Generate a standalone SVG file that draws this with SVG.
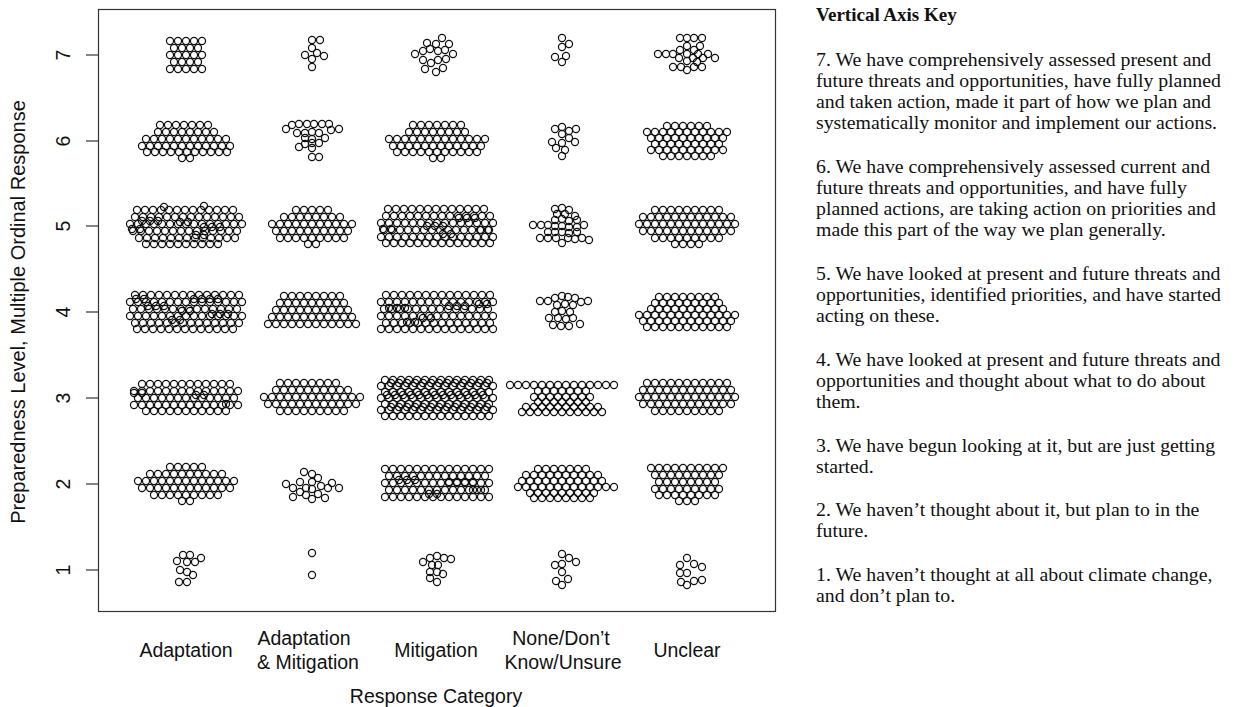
<svg xmlns="http://www.w3.org/2000/svg" xmlns:xlink="http://www.w3.org/1999/xlink" width="1235" height="707" viewBox="0 0 1235 707">
<style>
.ax{font-family:"Liberation Sans",Arial,sans-serif;font-size:19.5px;fill:#111}
.yt{font-size:20px}
.key{font-family:"Liberation Serif","Times New Roman",serif;font-size:19.8px;fill:#111}
.kb{font-weight:bold;font-size:19px}
.pts{fill:none;stroke:#111;stroke-width:1.25}
.frame{fill:none;stroke:#333;stroke-width:1.2}
.tick{stroke:#333;stroke-width:1.2}
</style>
<defs>
<circle id="c" r="3.55"/>
<g id="r1"><use href="#c"/></g>
<g id="r2"><use href="#c" x="-4"/><use href="#c" x="4"/></g>
<g id="r3"><use href="#r1"/><use href="#c" x="-8"/><use href="#c" x="8"/></g>
<g id="r4"><use href="#r2"/><use href="#c" x="-12"/><use href="#c" x="12"/></g>
<g id="r5"><use href="#r3"/><use href="#c" x="-16"/><use href="#c" x="16"/></g>
<g id="r6"><use href="#r4"/><use href="#c" x="-20"/><use href="#c" x="20"/></g>
<g id="r7"><use href="#r5"/><use href="#c" x="-24"/><use href="#c" x="24"/></g>
<g id="r8"><use href="#r6"/><use href="#c" x="-28"/><use href="#c" x="28"/></g>
<g id="r9"><use href="#r7"/><use href="#c" x="-32"/><use href="#c" x="32"/></g>
<g id="r10"><use href="#r8"/><use href="#c" x="-36"/><use href="#c" x="36"/></g>
<g id="r11"><use href="#r9"/><use href="#c" x="-40"/><use href="#c" x="40"/></g>
<g id="r12"><use href="#r10"/><use href="#c" x="-44"/><use href="#c" x="44"/></g>
<g id="r13"><use href="#r11"/><use href="#c" x="-48"/><use href="#c" x="48"/></g>
<g id="r14"><use href="#r12"/><use href="#c" x="-52"/><use href="#c" x="52"/></g>
<g id="r15"><use href="#r13"/><use href="#c" x="-56"/><use href="#c" x="56"/></g>
</defs>
<rect width="1235" height="707" fill="#fff"/>

<rect class="frame" x="98.5" y="9.5" width="677" height="602"/>
<g id="axis-y">
<line class="tick" x1="86" y1="55" x2="98" y2="55"/>
<line class="tick" x1="86" y1="141" x2="98" y2="141"/>
<line class="tick" x1="86" y1="226" x2="98" y2="226"/>
<line class="tick" x1="86" y1="312" x2="98" y2="312"/>
<line class="tick" x1="86" y1="398" x2="98" y2="398"/>
<line class="tick" x1="86" y1="484" x2="98" y2="484"/>
<line class="tick" x1="86" y1="570" x2="98" y2="570"/>
<g class="ax" text-anchor="middle">
<text x="70" y="55" transform="rotate(-90 70 55)">7</text>
<text x="70" y="141" transform="rotate(-90 70 141)">6</text>
<text x="70" y="226" transform="rotate(-90 70 226)">5</text>
<text x="70" y="312" transform="rotate(-90 70 312)">4</text>
<text x="70" y="398" transform="rotate(-90 70 398)">3</text>
<text x="70" y="484" transform="rotate(-90 70 484)">2</text>
<text x="70" y="570" transform="rotate(-90 70 570)">1</text>
<text class="yt" x="25" y="312" transform="rotate(-90 25 312)">Preparedness Level, Multiple Ordinal Response</text>
</g>
</g>
<g id="axis-x" class="ax" text-anchor="middle">
<text x="186" y="657">Adaptation</text>
<text x="304" y="645">Adaptation</text>
<text x="308" y="669">&amp; Mitigation</text>
<text x="436" y="657">Mitigation</text>
<text x="561" y="645">None/Don’t</text>
<text x="563" y="669">Know/Unsure</text>
<text x="687" y="657">Unclear</text>
<text x="436" y="703">Response Category</text>
</g>

<g class="pts">
<!-- Adaptation -->
<g id="adaptation-7" transform="translate(186 55)">
<use href="#r5" y="-14"/><use href="#r4" y="-7"/><use href="#r5" y="0"/><use href="#r4" y="7"/><use href="#r5" y="14"/>
</g>
<g id="adaptation-6" transform="translate(186 141)">
<use href="#r7" x="-2" y="-16"/><use href="#r8" y="-9"/><use href="#r11" y="-2"/><use href="#r12" y="5"/><use href="#r11" x="1" y="11"/><use href="#r2" y="17"/>
</g>
<g id="adaptation-5" transform="translate(186 226)">
<use href="#r13" x="-1" y="-16"/><use href="#r14" x="1" y="-9"/><use href="#r15" y="-2"/><use href="#r14" x="-1" y="5"/><use href="#r13" x="1" y="12"/><use href="#r10" x="-4" y="18"/>
<use href="#r3" x="-36" y="-5"/><use href="#r2" x="-2" y="-4"/><use href="#r3" x="26" y="1"/><use href="#r2" x="14" y="9"/><use href="#r2" x="-50" y="3"/><use href="#r1" x="-22" y="-19"/><use href="#r1" x="18" y="-20"/>
</g>
<g id="adaptation-4" transform="translate(186 312)">
<use href="#r14" x="1" y="-17"/><use href="#r15" y="-10"/><use href="#r14" x="-1" y="-3"/><use href="#r15" y="4"/><use href="#r14" x="1" y="11"/><use href="#r13" x="-1" y="17"/>
<use href="#r3" x="-30" y="-6"/><use href="#r2" x="0" y="-1"/><use href="#r3" x="34" y="2"/><use href="#r2" x="-10" y="8"/><use href="#r4" x="20" y="-13"/><use href="#r2" x="-46" y="-13"/>
</g>
<g id="adaptation-3" transform="translate(186 398)">
<use href="#r12" y="-14"/><use href="#r14" y="-7"/><use href="#r13" y="0"/><use href="#r14" y="7"/><use href="#r11" y="13"/>
<use href="#r2" x="-48" y="-5"/><use href="#r2" x="14" y="-3"/><use href="#r1" x="40" y="6"/>
</g>
<g id="adaptation-2" transform="translate(186 484)">
<use href="#r5" y="-17"/><use href="#r10" y="-10"/><use href="#r13" y="-3"/><use href="#r12" y="4"/><use href="#r9" y="11"/><use href="#r2" y="17"/>
</g>
<g id="adaptation-1">
<use href="#c" x="183" y="555"/><use href="#c" x="190" y="555"/><use href="#c" x="201" y="558"/><use href="#c" x="177" y="561"/><use href="#c" x="187" y="562"/><use href="#c" x="195" y="562"/><use href="#c" x="180" y="570"/><use href="#c" x="187" y="572"/><use href="#c" x="193" y="575"/><use href="#c" x="179" y="582"/><use href="#c" x="187" y="582"/>
</g>

<!-- Adaptation & Mitigation -->
<g id="adaptmit-7">
<use href="#c" x="312" y="40"/><use href="#c" x="320" y="40"/><use href="#c" x="312" y="48"/><use href="#c" x="305" y="55"/><use href="#c" x="317" y="53"/><use href="#c" x="324" y="56"/><use href="#c" x="312" y="59"/><use href="#c" x="312" y="67"/>
</g>
<g id="adaptmit-6">
<use href="#c" x="292" y="125"/><use href="#c" x="299" y="124"/><use href="#c" x="307" y="124"/><use href="#c" x="314" y="124"/><use href="#c" x="322" y="124"/><use href="#c" x="329" y="124"/><use href="#c" x="286" y="129"/><use href="#c" x="331" y="130"/><use href="#c" x="339" y="129"/>
<use href="#c" x="297" y="133"/><use href="#c" x="305" y="133"/><use href="#c" x="312" y="132"/><use href="#c" x="319" y="133"/>
<use href="#c" x="305" y="138"/><use href="#c" x="312" y="139"/><use href="#c" x="325" y="138"/>
<use href="#c" x="305" y="144"/><use href="#c" x="312" y="143"/><use href="#c" x="319" y="143"/>
<use href="#c" x="299" y="147"/><use href="#c" x="312" y="148"/>
<use href="#c" x="312" y="157"/><use href="#c" x="319" y="157"/>
</g>
<g id="adaptmit-5" transform="translate(312 226)">
<use href="#r5" y="-16"/><use href="#r8" y="-9"/><use href="#r11" y="-2"/><use href="#r10" y="5"/><use href="#r9" y="12"/><use href="#r2" y="18"/>
</g>
<g id="adaptmit-4" transform="translate(312 312)">
<use href="#r8" y="-16"/><use href="#r9" y="-9"/><use href="#r10" y="-2"/><use href="#r11" y="5"/><use href="#r12" y="12"/>
</g>
<g id="adaptmit-3" transform="translate(312 398)">
<use href="#r8" x="-4" y="-15"/><use href="#r10" y="-8"/><use href="#r13" y="-1"/><use href="#r12" y="6"/><use href="#r9" y="13"/>
</g>
<g id="adaptmit-2">
<use href="#c" x="304" y="472"/><use href="#c" x="312" y="474"/><use href="#c" x="318" y="478"/><use href="#c" x="286" y="484"/><use href="#c" x="293" y="488"/><use href="#c" x="300" y="482"/><use href="#c" x="306" y="488"/><use href="#c" x="312" y="482"/><use href="#c" x="312" y="489"/><use href="#c" x="321" y="486"/><use href="#c" x="328" y="488"/><use href="#c" x="332" y="483"/><use href="#c" x="339" y="488"/><use href="#c" x="293" y="497"/><use href="#c" x="300" y="492"/><use href="#c" x="306" y="495"/><use href="#c" x="312" y="499"/><use href="#c" x="318" y="494"/><use href="#c" x="325" y="498"/>
</g>
<g id="adaptmit-1">
<use href="#c" x="312" y="553"/><use href="#c" x="312" y="575"/>
</g>

<!-- Mitigation -->
<g id="mitigation-7">
<use href="#c" x="442" y="38"/><use href="#c" x="427" y="43"/><use href="#c" x="436" y="44"/><use href="#c" x="449" y="44"/><use href="#c" x="415" y="54"/><use href="#c" x="423" y="51"/><use href="#c" x="430" y="49"/><use href="#c" x="438" y="51"/><use href="#c" x="445" y="50"/><use href="#c" x="453" y="54"/><use href="#c" x="423" y="60"/><use href="#c" x="431" y="63"/><use href="#c" x="438" y="60"/><use href="#c" x="446" y="59"/><use href="#c" x="425" y="69"/><use href="#c" x="436" y="72"/><use href="#c" x="443" y="68"/>
</g>
<g id="mitigation-6" transform="translate(437 141)">
<use href="#r7" y="-16"/><use href="#r8" y="-9"/><use href="#r13" y="-2"/><use href="#r12" y="5"/><use href="#r11" y="11"/><use href="#r2" y="17"/>
</g>
<g id="mitigation-5" transform="translate(437 226)">
<use href="#r13" x="-1" y="-17"/><use href="#r14" x="1" y="-10"/><use href="#r15" y="-3"/><use href="#r14" x="-1" y="4"/><use href="#r15" y="11"/><use href="#r14" x="1" y="17"/>
<use href="#r2" x="-50" y="3"/><use href="#r3" x="-2" y="0"/><use href="#r3" x="30" y="-8"/><use href="#r2" x="48" y="4"/><use href="#r2" x="10" y="8"/>
</g>
<g id="mitigation-4" transform="translate(437 312)">
<use href="#r14" x="1" y="-17"/><use href="#r15" y="-10"/><use href="#r14" x="-1" y="-3"/><use href="#r15" y="4"/><use href="#r14" x="1" y="11"/><use href="#r15" y="17"/>
<use href="#r3" x="-40" y="-4"/><use href="#r2" x="-10" y="6"/><use href="#r3" x="20" y="-6"/><use href="#r2" x="46" y="-8"/><use href="#r2" x="-26" y="10"/>
</g>
<g id="mitigation-3" transform="translate(437 398)">
<use href="#r14" y="-18"/><use href="#r15" y="-12"/><use href="#r14" y="-6"/><use href="#r15" y="0"/><use href="#r14" y="6"/><use href="#r15" y="12"/><use href="#r14" y="18"/>
<use href="#r13" x="2" y="-15"/><use href="#r13" x="-2" y="-3"/><use href="#r13" x="2" y="9"/>
</g>
<g id="mitigation-2" transform="translate(437 484)">
<use href="#r14" y="-15"/><use href="#r13" y="-8"/><use href="#r14" y="-1"/><use href="#r13" y="6"/><use href="#r14" y="13"/>
<use href="#r3" x="-30" y="-4"/><use href="#r4" x="24" y="-2"/><use href="#r2" x="-4" y="10"/><use href="#r2" x="40" y="6"/>
</g>
<g id="mitigation-1">
<use href="#c" x="423" y="562"/><use href="#c" x="430" y="558"/><use href="#c" x="437" y="556"/><use href="#c" x="444" y="558"/><use href="#c" x="451" y="559"/><use href="#c" x="432" y="565"/><use href="#c" x="438" y="565"/><use href="#c" x="430" y="572"/><use href="#c" x="437" y="572"/><use href="#c" x="443" y="574"/><use href="#c" x="430" y="578"/><use href="#c" x="437" y="582"/>
</g>

<!-- None/Don't Know/Unsure -->
<g id="none-7">
<use href="#c" x="562" y="38"/><use href="#c" x="569" y="44"/><use href="#c" x="562" y="47"/><use href="#c" x="555" y="57"/><use href="#c" x="566" y="56"/><use href="#c" x="562" y="62"/>
</g>
<g id="none-6">
<use href="#c" x="555" y="129"/><use href="#c" x="562" y="127"/><use href="#c" x="569" y="131"/><use href="#c" x="576" y="129"/><use href="#c" x="562" y="134"/><use href="#c" x="569" y="138"/><use href="#c" x="552" y="142"/><use href="#c" x="562" y="143"/><use href="#c" x="575" y="142"/><use href="#c" x="556" y="148"/><use href="#c" x="565" y="150"/><use href="#c" x="562" y="156"/>
</g>
<g id="none-5">
<use href="#c" x="555" y="209"/><use href="#c" x="562" y="208"/><use href="#c" x="569" y="210"/>
<use href="#c" x="557" y="214"/><use href="#c" x="565" y="214"/><use href="#c" x="575" y="216"/>
<use href="#c" x="555" y="220"/><use href="#c" x="562" y="219"/><use href="#c" x="569" y="221"/><use href="#c" x="577" y="220"/>
<use href="#c" x="533" y="225"/><use href="#c" x="541" y="225"/><use href="#c" x="548" y="225"/><use href="#c" x="555" y="226"/><use href="#c" x="562" y="226"/><use href="#c" x="569" y="227"/><use href="#c" x="577" y="227"/><use href="#c" x="584" y="225"/>
<use href="#c" x="548" y="232"/><use href="#c" x="555" y="232"/><use href="#c" x="562" y="232"/><use href="#c" x="569" y="233"/><use href="#c" x="577" y="232"/>
<use href="#c" x="540" y="238"/><use href="#c" x="548" y="238"/><use href="#c" x="556" y="238"/><use href="#c" x="562" y="243"/><use href="#c" x="568" y="238"/><use href="#c" x="575" y="239"/><use href="#c" x="582" y="238"/><use href="#c" x="589" y="240"/>
</g>
<g id="none-4">
<use href="#c" x="540" y="301"/><use href="#c" x="548" y="301"/><use href="#c" x="555" y="298"/><use href="#c" x="562" y="296"/><use href="#c" x="568" y="297"/><use href="#c" x="575" y="298"/><use href="#c" x="581" y="302"/><use href="#c" x="588" y="301"/>
<use href="#c" x="557" y="305"/><use href="#c" x="565" y="304"/><use href="#c" x="573" y="305"/>
<use href="#c" x="555" y="312"/><use href="#c" x="562" y="311"/><use href="#c" x="570" y="312"/>
<use href="#c" x="549" y="318"/><use href="#c" x="558" y="318"/><use href="#c" x="566" y="319"/><use href="#c" x="573" y="318"/>
<use href="#c" x="553" y="325"/><use href="#c" x="561" y="326"/><use href="#c" x="569" y="326"/><use href="#c" x="580" y="324"/>
</g>
<g id="none-3" transform="translate(562 398)">
<use href="#r14" y="-13"/><use href="#r7" y="-7"/><use href="#r8" y="-1"/><use href="#r7" y="4"/><use href="#r10" y="9"/><use href="#r11" y="14"/>
</g>
<g id="none-2" transform="translate(562 484)">
<use href="#r7" y="-15"/><use href="#r10" y="-9"/><use href="#r11" y="-3"/><use href="#r13" x="4" y="3"/><use href="#r9" y="9"/><use href="#r8" y="14"/>
</g>
<g id="none-1">
<use href="#c" x="562" y="554"/><use href="#c" x="569" y="558"/><use href="#c" x="576" y="562"/><use href="#c" x="555" y="565"/><use href="#c" x="562" y="564"/><use href="#c" x="562" y="572"/><use href="#c" x="556" y="581"/><use href="#c" x="562" y="585"/><use href="#c" x="568" y="579"/>
</g>

<!-- Unclear -->
<g id="unclear-7">
<use href="#c" x="680" y="38"/><use href="#c" x="687" y="38"/><use href="#c" x="694" y="38"/><use href="#c" x="702" y="38"/><use href="#c" x="687" y="46"/><use href="#c" x="700" y="46"/><use href="#c" x="680" y="50"/><use href="#c" x="694" y="50"/><use href="#c" x="658" y="54"/><use href="#c" x="666" y="54"/><use href="#c" x="673" y="54"/><use href="#c" x="687" y="54"/><use href="#c" x="698" y="54"/><use href="#c" x="708" y="54"/><use href="#c" x="679" y="58"/><use href="#c" x="693" y="58"/><use href="#c" x="703" y="58"/><use href="#c" x="715" y="58"/><use href="#c" x="687" y="61"/><use href="#c" x="697" y="62"/><use href="#c" x="673" y="67"/><use href="#c" x="681" y="67"/><use href="#c" x="694" y="67"/><use href="#c" x="702" y="67"/><use href="#c" x="687" y="70"/>
</g>
<g id="unclear-6" transform="translate(687 141)">
<use href="#r6" y="-15"/><use href="#r11" y="-9"/><use href="#r10" y="-3"/><use href="#r9" y="3"/><use href="#r10" y="9"/><use href="#r7" y="15"/>
</g>
<g id="unclear-5" transform="translate(687 226)">
<use href="#r9" y="-16"/><use href="#r12" y="-9"/><use href="#r13" y="-2"/><use href="#r12" y="5"/><use href="#r9" y="12"/><use href="#r4" y="18"/>
</g>
<g id="unclear-4" transform="translate(687 312)">
<use href="#r8" y="-15"/><use href="#r9" y="-9"/><use href="#r10" y="-3"/><use href="#r13" y="3"/><use href="#r12" y="9"/><use href="#r11" y="15"/>
</g>
<g id="unclear-3" transform="translate(687 398)">
<use href="#r11" y="-15"/><use href="#r12" y="-8"/><use href="#r13" y="-1"/><use href="#r12" y="6"/><use href="#r9" y="13"/>
</g>
<g id="unclear-2" transform="translate(687 484)">
<use href="#r10" y="-16"/><use href="#r9" y="-9"/><use href="#r8" y="-2"/><use href="#r9" y="5"/><use href="#r8" y="11"/><use href="#r3" y="17"/>
</g>
<g id="unclear-1">
<use href="#c" x="687" y="558"/><use href="#c" x="680" y="565"/><use href="#c" x="694" y="564"/><use href="#c" x="702" y="567"/><use href="#c" x="680" y="573"/><use href="#c" x="687" y="573"/><use href="#c" x="681" y="582"/><use href="#c" x="687" y="585"/><use href="#c" x="694" y="581"/><use href="#c" x="702" y="580"/>
</g>
</g>

<g id="key" class="key">
<text class="kb" x="816" y="21">Vertical Axis Key</text>
<text x="816" y="66">7. We have comprehensively assessed present and</text>
<text x="816" y="87">future threats and opportunities, have fully planned</text>
<text x="816" y="108">and taken action, made it part of how we plan and</text>
<text x="816" y="129">systematically monitor and implement our actions.</text>
<text x="816" y="173">6. We have comprehensively assessed current and</text>
<text x="816" y="194">future threats and opportunities, and have fully</text>
<text x="816" y="215">planned actions, are taking action on priorities and</text>
<text x="816" y="236">made this part of the way we plan generally.</text>
<text x="816" y="280">5. We have looked at present and future threats and</text>
<text x="816" y="301">opportunities, identified priorities, and have started</text>
<text x="816" y="322">acting on these.</text>
<text x="816" y="366">4. We have looked at present and future threats and</text>
<text x="816" y="387">opportunities and thought about what to do about</text>
<text x="816" y="408">them.</text>
<text x="816" y="452">3. We have begun looking at it, but are just getting</text>
<text x="816" y="473">started.</text>
<text x="816" y="516">2. We haven’t thought about it, but plan to in the</text>
<text x="816" y="537">future.</text>
<text x="816" y="581">1. We haven’t thought at all about climate change,</text>
<text x="816" y="602">and don’t plan to.</text>
</g>
</svg>
